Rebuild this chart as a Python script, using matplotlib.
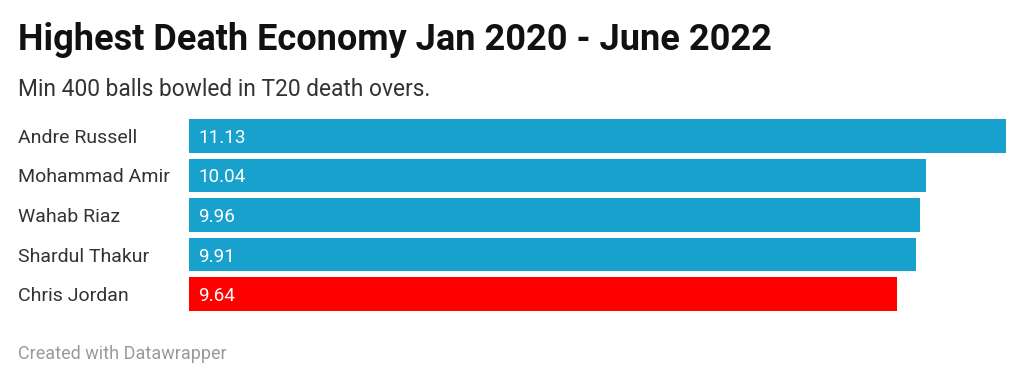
import matplotlib
matplotlib.use("Agg")
import matplotlib.pyplot as plt
from matplotlib import transforms

players = ["Andre Russell", "Mohammad Amir", "Wahab Riaz", "Shardul Thakur", "Chris Jordan"]
economy = [11.13, 10.04, 9.96, 9.91, 9.64]
colors = ["#18a1cd", "#18a1cd", "#18a1cd", "#18a1cd", "#ff0000"]
value_labels = ["11.13", "10.04", "9.96", "9.91", "9.64"]

W, H = 1024, 381
fig = plt.figure(figsize=(W / 100, H / 100), dpi=100)
fig.patch.set_facecolor("white")

font = "Roboto"
ax = fig.add_axes([189 / W, (H - 310.6) / H, (1006 - 189) / W, 191.2 / H])
ypos = list(range(len(players)))
ax.barh(ypos, economy, height=0.84, color=colors, edgecolor="none")
ax.set_xlim(0, max(economy))
ax.set_ylim(len(players) - 1 + 0.42, -0.42)
ax.axis("off")

# category labels
trans_lab = transforms.blended_transform_factory(fig.transFigure, ax.transData)
for y, name in zip(ypos, players):
    ax.text(18 / W, y, name, transform=trans_lab, ha="left", va="center_baseline",
            fontsize=14, family=font, color="#333333")

# value labels
trans_val = ax.transData + transforms.ScaledTranslation(9 / 100, 0, fig.dpi_scale_trans)
for y, v, lab in zip(ypos, economy, value_labels):
    ax.text(0, y, lab, transform=trans_val, ha="left", va="center_baseline",
            fontsize=13.6, family=font, color="white")

fig.text(18 / W, 1 - 50 / H, "Highest Death Economy Jan 2020 - June 2022",
         ha="left", va="baseline", fontsize=26, fontweight="bold", family=font, color="#111111")
fig.text(18 / W, 1 - 96 / H, "Min 400 balls bowled in T20 death overs.",
         ha="left", va="baseline", fontsize=16.4, family=font, color="#333333")
fig.text(18 / W, 1 - 359.3 / H, "Created with Datawrapper",
         ha="left", va="baseline", fontsize=13, family=font, color="#9a9a9a")

fig.savefig("out.png", dpi=100, facecolor="white")
